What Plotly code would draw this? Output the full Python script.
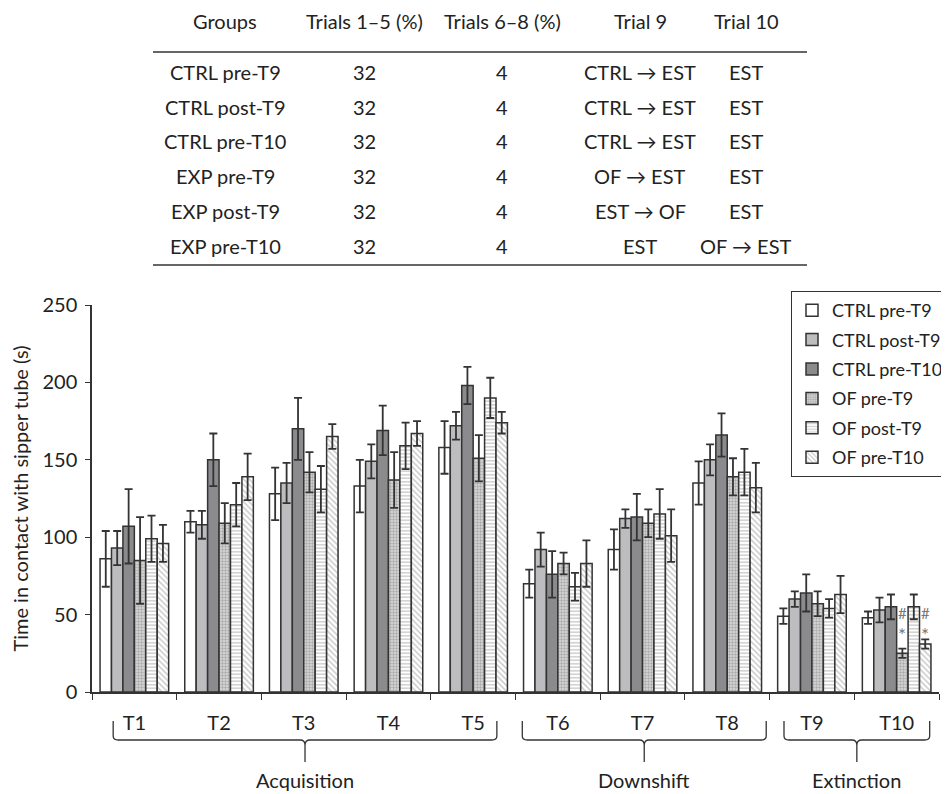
import plotly.graph_objects as go

# ---------------- data ----------------
trials = ['T1', 'T2', 'T3', 'T4', 'T5', 'T6', 'T7', 'T8', 'T9', 'T10']
groups = ['CTRL pre-T9', 'CTRL post-T9', 'CTRL pre-T10', 'OF pre-T9', 'OF post-T9', 'OF pre-T10']

ctrl_pre_t9 = [86, 110, 128, 133, 158, 70, 92, 135, 49, 48]
ctrl_pre_t9_err = [18, 7, 17, 17, 17, 9, 13, 14, 5, 4]
ctrl_post_t9 = [93, 108, 135, 149, 172, 92, 112, 150, 60, 53]
ctrl_post_t9_err = [11, 9, 13, 11, 9, 11, 6, 10, 5, 8]
ctrl_pre_t10 = [107, 150, 170, 169, 198, 76, 113, 166, 64, 55]
ctrl_pre_t10_err = [24, 17, 20, 16, 12, 15, 15, 14, 12, 8]
of_pre_t9 = [85, 109, 142, 137, 151, 83, 109, 139, 57, 25]
of_pre_t9_err = [28, 13, 13, 18, 15, 7, 9, 12, 8, 3]
of_post_t9 = [99, 121, 131, 159, 190, 68, 115, 142, 54, 55]
of_post_t9_err = [15, 14, 15, 15, 13, 9, 16, 15, 6, 8]
of_pre_t10 = [96, 139, 165, 167, 174, 83, 101, 132, 63, 31]
of_pre_t10_err = [12, 15, 8, 8, 7, 15, 17, 16, 12, 3]

series_values = [ctrl_pre_t9, ctrl_post_t9, ctrl_pre_t10, of_pre_t9, of_post_t9, of_pre_t10]
series_errors = [ctrl_pre_t9_err, ctrl_post_t9_err, ctrl_pre_t10_err,
                 of_pre_t9_err, of_post_t9_err, of_pre_t10_err]

y_ticks = [0, 50, 100, 150, 200, 250]

# significance marks: symbol, group, trial, height
sig_symbols = ['#', '*', '#', '*']
sig_groups = ['OF pre-T9', 'OF pre-T9', 'OF pre-T10', 'OF pre-T10']
sig_trials = ['T10', 'T10', 'T10', 'T10']
sig_heights = [51, 37, 51, 37]

# phases
phase_names = ['Acquisition', 'Downshift', 'Extinction']
phase_start = [-0.25, 4.58, 7.67]
phase_end = [4.28, 7.46, 9.39]

# table
table_header = ['Groups', 'Trials 1–5 (%)', 'Trials 6–8 (%)', 'Trial 9', 'Trial 10']
table_groups = ['CTRL pre-T9', 'CTRL post-T9', 'CTRL pre-T10', 'EXP pre-T9', 'EXP post-T9', 'EXP pre-T10']
table_t1_5 = ['32', '32', '32', '32', '32', '32']
table_t6_8 = ['4', '4', '4', '4', '4', '4']
table_t9 = ['CTRL → EST', 'CTRL → EST', 'CTRL → EST', 'OF → EST', 'EST → OF', 'EST']
table_t10 = ['EST', 'EST', 'EST', 'EST', 'EST', 'OF → EST']

# ---------------- style ----------------
OFF = 8  # page offset of the figure in the browser
W, H = 949, 786
ML, MR, MT, MB = 84, 18, 297, 102
PW, PH = W - ML - MR, H - MT - MB
FONT = 'Lato'
TXT = '#222222'
LINE = '#333333'
BARGAP = 0.19


def px_x(px):
    return (px - OFF - ML) / PW


def px_y(py):
    return (H - MB - (py - OFF)) / PH


styles = [
    dict(color='white'),
    dict(color='#bdbdc0'),
    dict(color='#8b8b8e'),
    dict(color='white', pattern=dict(shape='.', fgcolor='#777777', bgcolor='#dcdcdc', size=3, solidity=0.5)),
    dict(color='white', pattern=dict(shape='-', fgcolor='#a0a0a0', bgcolor='white', size=3.5, solidity=0.45)),
    dict(color='white', pattern=dict(shape='\\', fgcolor='#8a8a8a', bgcolor='white', size=4, solidity=0.35)),
]

fig = go.Figure()
for name, vals, errs, st in zip(groups, series_values, series_errors, styles):
    marker = dict(color=st['color'], line=dict(color=LINE, width=1.5))
    if 'pattern' in st:
        marker['pattern'] = st['pattern']
    fig.add_trace(go.Bar(
        x=trials, y=vals, name=name, marker=marker, legendgroup=name,
        error_y=dict(type='data', array=errs, visible=True, color=LINE, thickness=1.8, width=4),
    ))

annotations = []
shapes = []

# significance marks
bar_w = (1 - BARGAP) / len(groups)
for sym, g, t, h in zip(sig_symbols, sig_groups, sig_trials, sig_heights):
    k = groups.index(g)
    xc = trials.index(t) - (1 - BARGAP) / 2 + bar_w * (k + 0.5)
    annotations.append(dict(x=xc, y=h, xref='x', yref='y', text=sym, showarrow=False,
                            xanchor='center', yanchor='middle',
                            font=dict(family=FONT, size=15 if sym == '#' else 19, color='#777777')))

# phase brackets
y_top, y_h, y_v, y_tip, y_lab = px_y(721), px_y(740), px_y(745), px_y(762), px_y(780)
r = 4 / PH
dx = 5 / (PW / len(trials))
for name, a, b in zip(phase_names, phase_start, phase_end):
    c = (a + b) / 2
    path = (f"M {a},{y_top} L {a},{y_h + r} Q {a},{y_h} {a + dx},{y_h} L {c - dx},{y_h} "
            f"Q {c},{y_h} {c},{y_v} L {c},{y_tip} M {c},{y_v} Q {c},{y_h} {c + dx},{y_h} "
            f"L {b - dx},{y_h} Q {b},{y_h} {b},{y_h + r} L {b},{y_top}")
    shapes.append(dict(type='path', xref='x', yref='paper', path=path,
                       line=dict(color=LINE, width=1.3)))
    annotations.append(dict(x=c, y=y_lab, xref='x', yref='paper', text=name, showarrow=False,
                            xanchor='center', yanchor='middle',
                            font=dict(family=FONT, size=20, color=TXT)))

# table
col_x = [225, 364, 502, 640, 746]
header_y = 21
row_y = [72 + 34.7 * i for i in range(len(table_groups))]
for cx, txt in zip(col_x, table_header):
    annotations.append(dict(x=px_x(cx), y=px_y(header_y), xref='paper', yref='paper', text=txt,
                            showarrow=False, xanchor='center', yanchor='middle',
                            font=dict(family=FONT, size=20, color=TXT)))
columns = [table_groups, table_t1_5, table_t6_8, table_t9, table_t10]
for cx, col in zip(col_x, columns):
    for ry, txt in zip(row_y, col):
        annotations.append(dict(x=px_x(cx), y=px_y(ry), xref='paper', yref='paper', text=txt,
                                showarrow=False, xanchor='center', yanchor='middle',
                                font=dict(family=FONT, size=20, color=TXT)))
for ly in [52, 265]:
    shapes.append(dict(type='line', xref='paper', yref='paper', x0=px_x(153), x1=px_x(807),
                       y0=px_y(ly), y1=px_y(ly), line=dict(color=LINE, width=1.6)))

fig.update_layout(
    width=W, height=H,
    margin=dict(l=ML, r=MR, t=MT, b=MB, autoexpand=False),
    paper_bgcolor='white', plot_bgcolor='white',
    barmode='group', bargap=BARGAP, bargroupgap=0,
    font=dict(family=FONT, size=18, color=TXT),
    showlegend=True,
    legend=dict(x=px_x(791), y=px_y(291), xanchor='left', yanchor='top',
                bordercolor=LINE, borderwidth=1, bgcolor='white',
                font=dict(family=FONT, size=18, color=TXT), tracegroupgap=3,
                traceorder='grouped'),
    annotations=annotations, shapes=shapes,
)
fig.update_xaxes(type='category', categoryorder='array', categoryarray=trials,
                 showline=True, linecolor=LINE, linewidth=1.5, ticks='outside',
                 tickson='boundaries', ticklen=6, tickcolor=LINE, tickwidth=1.3,
                 showgrid=False, zeroline=False, ticklabelstandoff=12,
                 tickfont=dict(family=FONT, size=20, color=TXT))
fig.update_yaxes(range=[0, 250], tickvals=y_ticks, showline=True, linecolor=LINE, linewidth=1.5,
                 ticks='outside', ticklen=5, tickcolor=LINE, tickwidth=1.3, showgrid=False,
                 zeroline=False, ticklabelstandoff=4,
                 tickfont=dict(family=FONT, size=20, color=TXT),
                 title=dict(text='Time in contact with sipper tube (s)', standoff=11,
                            font=dict(family=FONT, size=20, color=TXT)))

fig.write_html('out.html')
